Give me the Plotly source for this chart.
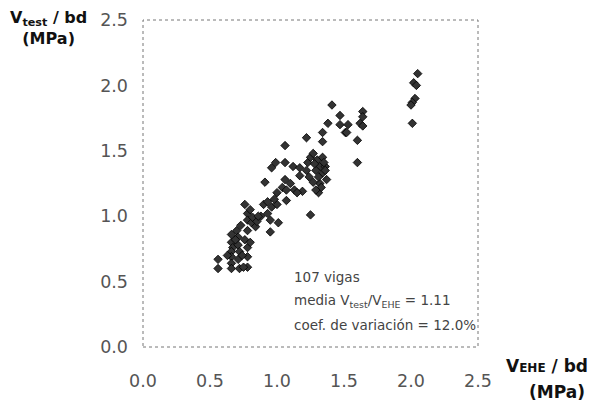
import plotly.graph_objects as go

# V_EHE / bd (MPa)
v_ehe = [
    0.56, 0.56, 0.66, 0.66, 0.67, 0.66, 0.66, 0.66, 0.66, 0.70,
    0.71, 0.71, 0.72, 0.71, 0.72, 0.76, 0.78, 0.78, 0.81, 0.84,
    0.78, 0.76, 0.78, 0.78, 0.78, 0.75, 0.82, 0.85, 0.90, 0.93,
    0.96, 0.93, 0.95, 0.95, 1.01, 1.00, 0.91, 1.00, 1.04, 0.73,
    0.80, 0.63, 0.88, 1.06, 0.96, 0.99, 1.06, 1.12, 1.06, 1.10,
    1.13, 1.19, 1.07, 1.17, 1.22, 1.23, 1.25, 1.27, 1.30, 1.32,
    1.34, 1.37, 1.32, 1.27, 1.31, 1.22, 1.34, 1.38, 1.47, 1.51,
    1.25, 1.07, 0.98, 1.41, 1.47, 1.53, 1.52, 1.64, 1.64, 1.62,
    1.64, 1.60, 1.60, 1.34, 1.34, 1.36, 2.05, 2.02, 2.04, 2.03,
    2.01, 2.00, 2.01, 1.29, 1.31, 1.35, 1.28, 1.33, 1.36, 1.24,
    1.29, 0.69, 0.74, 0.80, 1.17, 1.15, 0.86,
]
# V_test / bd (MPa)
v_test = [
    0.67, 0.60, 0.86, 0.80, 0.76, 0.73, 0.69, 0.64, 0.60, 0.89,
    0.84, 0.78, 0.73, 0.67, 0.60, 1.09, 1.02, 0.97, 0.95, 0.92,
    0.89, 0.82, 0.76, 0.69, 0.61, 0.61, 0.99, 0.96, 1.09, 1.11,
    1.07, 1.02, 0.97, 0.88, 0.95, 1.09, 1.26, 1.18, 1.22, 0.93,
    1.05, 0.70, 1.00, 1.54, 1.37, 1.41, 1.41, 1.38, 1.28, 1.25,
    1.20, 1.19, 1.20, 1.31, 1.35, 1.41, 1.45, 1.48, 1.43, 1.38,
    1.33, 1.28, 1.25, 1.26, 1.18, 1.60, 1.64, 1.71, 1.70, 1.64,
    1.01, 1.12, 1.13, 1.85, 1.77, 1.70, 1.64, 1.80, 1.76, 1.71,
    1.69, 1.58, 1.41, 1.57, 1.45, 1.38, 2.09, 2.02, 2.00, 1.90,
    1.87, 1.85, 1.71, 1.35, 1.30, 1.41, 1.40, 1.22, 1.35, 1.30,
    1.20, 0.82, 0.70, 0.80, 1.37, 1.18, 1.00,
]
tick_vals = [0.0, 0.5, 1.0, 1.5, 2.0, 2.5]
stats_lines = [
    "107 vigas",
    "media V<sub>test</sub>/V<sub>EHE</sub> = 1.11",
    "coef. de variación = 12.0%",
]

FONT = "DejaVu Sans, Liberation Sans, Arial, sans-serif"

fig = go.Figure()
fig.add_trace(go.Scatter(
    x=v_ehe, y=v_test, mode="markers",
    marker=dict(symbol="diamond", size=6.5, color="#333333",
                line=dict(color="#000000", width=0.8)),
    showlegend=False, hoverinfo="x+y",
))

tick_font = dict(family=FONT, size=17.5, color="#555555")
fig.update_xaxes(range=[0, 2.5], tickvals=tick_vals, tickformat=".1f",
                 showgrid=False, zeroline=False, showline=False, automargin=False,
                 ticks="", tickfont=tick_font, ticklabelstandoff=21)
fig.update_yaxes(range=[0, 2.5], tickvals=tick_vals, tickformat=".1f",
                 showgrid=False, zeroline=False, showline=False, automargin=False,
                 ticks="", tickfont=tick_font, ticklabelstandoff=14)

# dotted frame around plot area
fig.add_shape(type="rect", xref="paper", yref="paper", x0=0, y0=0, x1=1, y1=1,
              line=dict(color="#777777", width=1, dash="dot"))

title_font = dict(family=FONT, size=16, color="#111111")
fig.add_annotation(xref="paper", yref="paper", x=-0.281, y=0.975, xanchor="center", yanchor="middle",
                   text="<b>V<sub>test</sub> / bd<br>(MPa)</b>", align="center",
                   showarrow=False, font=title_font, borderpad=0)
fig.add_annotation(xref="paper", yref="paper", x=1.205, y=-0.058, xanchor="center", yanchor="middle",
                   text="<b>V<span style='font-size:12px'>EHE</span> / bd</b>",
                   showarrow=False, font=dict(family=FONT, size=17, color="#111111"))
fig.add_annotation(xref="paper", yref="paper", x=1.236, y=-0.138, xanchor="center", yanchor="middle",
                   text="<b>(MPa)</b>", showarrow=False, font=dict(family=FONT, size=17, color="#111111"))

stat_font = dict(family=FONT, size=13.5, color="#444444")
for i, line in enumerate(stats_lines):
    fig.add_annotation(xref="paper", yref="paper", x=0.445, y=0.214 - i * 0.0735,
                       xanchor="left", yanchor="middle", text=line,
                       showarrow=False, font=stat_font)

fig.update_layout(
    width=597, height=410,
    margin=dict(l=135, r=127, t=12, b=71),
    plot_bgcolor="white", paper_bgcolor="white",
)
fig.write_html("out.html")
